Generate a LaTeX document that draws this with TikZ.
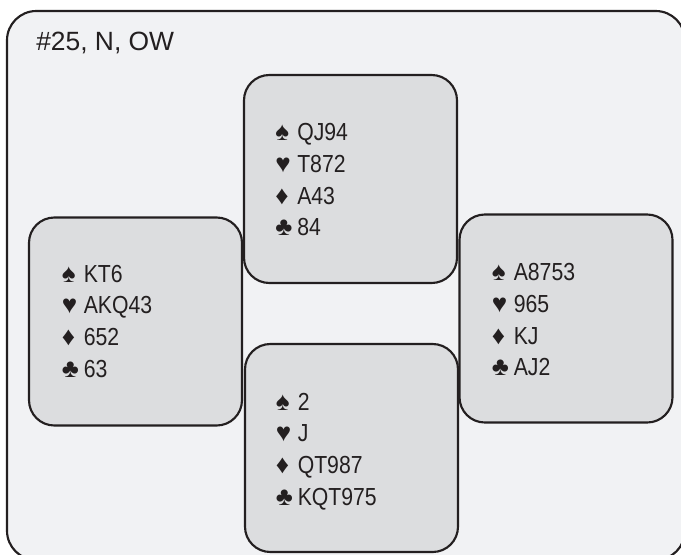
\documentclass[tikz,border=0pt]{standalone}
\usepackage{fontspec}
\setmainfont{Liberation Sans}
\newfontfamily\narrowfont[FakeStretch=0.86]{Liberation Sans}
\newfontfamily\suitfont{Liberation Sans}
\definecolor{ink}{HTML}{231F20}
\definecolor{bgfill}{HTML}{F1F2F4}
\definecolor{handfill}{HTML}{DCDDDF}
\newcommand\suitbox[1]{\makebox[16.5pt][l]{\suitfont\fontsize{19.5pt}{19.5pt}\selectfont #1}}
\begin{document}
\begin{tikzpicture}[x=0.75pt,y=-0.75pt,
  framebox/.style={draw=ink, line width=1.6pt, fill=bgfill, rounded corners=22pt, rectangle, inner sep=0pt,
    minimum width=508.5pt, minimum height=411.75pt},
  handbox/.style={draw=ink, line width=1.6pt, fill=handfill, rounded corners=19pt, rectangle, inner sep=0pt,
    minimum width=159.75pt, minimum height=156pt},
  cardline/.style={anchor=base west, inner sep=0pt, text=ink, font=\narrowfont\fontsize{18.5pt}{18.5pt}\selectfont},
  titletext/.style={anchor=base west, inner sep=0pt, text=ink, font=\fontsize{19.8pt}{19.8pt}\selectfont}]
\useasboundingbox (0,0) rectangle (681,554);
\clip (0,0) rectangle (681,554);
\node[framebox] (frame) at (346,285.5) {};
\node[titletext] (title) at (36,50) {\#25, N, OW};
% hand boxes
\node[handbox] (north) at (350.5,179) {};
\node[handbox] (west) at (135.5,321.5) {};
\node[handbox] (south) at (351.5,448) {};
\node[handbox] (east) at (566,318.5) {};
% north
\node[cardline] (ns) at (275,140.5) {\suitbox{♠}QJ94};
\node[cardline] (nh) at (275,172.3) {\suitbox{♥}T872};
\node[cardline] (nd) at (275,204.1) {\suitbox{♦}A43};
\node[cardline] (nc) at (275,235.9) {\suitbox{♣}84};
% west
\node[cardline] (ws) at (61.5,282) {\suitbox{♠}KT6};
\node[cardline] (wh) at (61.5,313.8) {\suitbox{♥}AKQ43};
\node[cardline] (wd) at (61.5,345.6) {\suitbox{♦}652};
\node[cardline] (wc) at (61.5,377.4) {\suitbox{♣}63};
% east
\node[cardline] (es) at (491.5,280.5) {\suitbox{♠}A8753};
\node[cardline] (eh) at (491.5,312.3) {\suitbox{♥}965};
\node[cardline] (ed) at (491.5,344.1) {\suitbox{♦}KJ};
\node[cardline] (ec) at (491.5,375.9) {\suitbox{♣}AJ2};
% south
\node[cardline] (ss) at (275.5,410) {\suitbox{♠}2};
\node[cardline] (sh) at (275.5,441.8) {\suitbox{♥}J};
\node[cardline] (sd) at (275.5,473.6) {\suitbox{♦}QT987};
\node[cardline] (sc) at (275.5,505.4) {\suitbox{♣}KQT975};
\end{tikzpicture}
\end{document}
